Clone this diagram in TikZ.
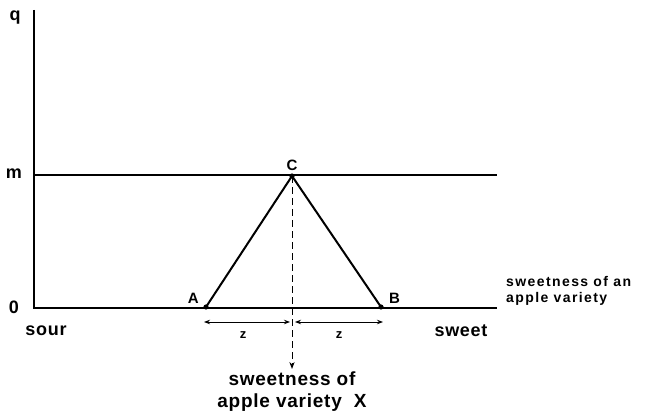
\documentclass[tikz,border=0pt]{standalone}
\usepackage{fontspec}
\setmainfont{Liberation Sans}[LetterSpace=4]
\newfontfamily\widefont{Liberation Sans}[LetterSpace=10]
\usetikzlibrary{arrows.meta,positioning}

\tikzset{
  axis/.style={line width=1.6pt},
  side/.style={line width=2pt},
  biglbl/.style={font=\fontsize{18}{21}\selectfont\bfseries, inner sep=0pt},
  botlbl/.style={font=\fontsize{19}{22}\selectfont\bfseries, inner sep=0pt, align=center},
  ptlbl/.style={font=\fontsize{15}{18}\selectfont\bfseries, inner sep=0pt},
  zlbl/.style={font=\fontsize{13}{16}\selectfont\bfseries, inner sep=0pt},
  smalllbl/.style={font=\widefont\fontsize{14}{16}\selectfont\bfseries, inner sep=0pt, align=left},
  dist/.style={line width=1pt, {Stealth[length=6pt]}-{Stealth[length=6pt]}}
}

\begin{document}
\begin{tikzpicture}[x=1pt, y=-1pt]
    \useasboundingbox (0,0) rectangle (645,414);

    % Axes
    \coordinate (top) at (34,10);
    \coordinate (O) at (34,308);
    \coordinate (xend) at (497,308);
    \coordinate (mleft) at (34,175);
    \coordinate (mright) at (497,175);
    \draw[axis] (top) -- (O) -- (xend);
    \draw[axis] (mleft) -- (mright);

    % Axis labels
    \node[biglbl] (qlbl) at (15,18) {q};
    \node[biglbl] (mlbl) at (14,174) {m};
    \node[biglbl] (zero) at (14,307) {0};
    \node[biglbl] (sour) at (46,331) {sour};
    \node[biglbl] (sweet) at (461,331) {sweet};
    \node[smalllbl, anchor=west] (scale) at (506,291) {sweetness of an\\apple variety};

    % Triangle
    \coordinate (A) at (206,307);
    \coordinate (B) at (381,307);
    \coordinate (C) at (292,176);
    \draw[side, line join=round] (A) -- (C) -- (B);
    \foreach \p in {A,B,C}
        \fill (\p) circle (2.6);
    \node[ptlbl, above=5pt of C] (Clbl) {C};
    \node[ptlbl, above left=3pt and 7pt of A] (Albl) {A};
    \node[ptlbl, above right=3pt and 8pt of B] (Blbl) {B};

    % Distances
    \coordinate (zl) at (204,322);
    \coordinate (zm) at (292,322);
    \coordinate (zr) at (383,322);
    \draw[dist, shorten >=2pt] (zl) -- (zm);
    \draw[dist, shorten <=3pt] (zm) -- (zr);
    \node[zlbl] (z1) at (243,335) {z};
    \node[zlbl] (z2) at (339,335) {z};

    % Variety X
    \coordinate (X) at (292,369);
    \draw[line width=1pt, dash pattern=on 7pt off 4pt, -{Stealth[length=7pt]}] (C) -- (X);
    \node[botlbl, below=3pt of X] (xlbl) {sweetness of\\apple variety\ \ X};
\end{tikzpicture}
\end{document}
